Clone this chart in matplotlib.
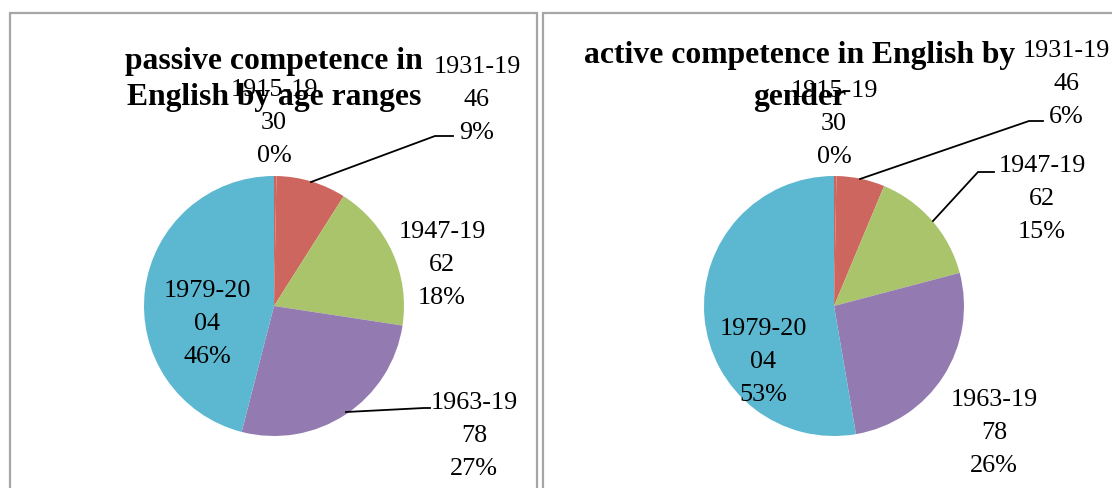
import matplotlib.pyplot as plt
from matplotlib.patches import Rectangle

# age ranges and shares (%)
ages = ["1915-1930", "1931-1946", "1947-1962", "1963-1978", "1979-2004"]
passive = [0.3, 8.7, 18.4, 26.6, 46.0]
active = [0.3, 6.0, 14.6, 26.4, 52.7]
titles = ["passive competence in\nEnglish by age ranges",
          "active competence in English by\ngender"]

colors = ["#CD665F", "#AAC46C", "#937BB1", "#5BB8D0"]
colors = [colors[0]] + colors  # first (tiny) slice unseen

W, H = 1112, 489
plt.rcParams['font.family'] = ['Liberation Serif', 'DejaVu Serif']

fig = plt.figure(figsize=(W / 100, H / 100), dpi=100)
ax = fig.add_axes([0, 0, 1, 1])

# panel frames
for x0, x1 in [(10, 537), (543, 1130)]:
    ax.add_patch(Rectangle((x0, -20), x1 - x0, H - 14 + 20, fill=False,
                           edgecolor="#A6A6A6", lw=1.6, clip_on=False))

def lab(name, v):
    return name[:7] + "\n" + name[7:] + "\n" + "%d%%" % round(v)

# label positions: centre x, last-line baseline y (pixels from top)
panels = [
    dict(vals=passive, cx=274, cy=307, tx=274, ty=105, tls=1.33,
         pos=[(274, 162), (477, 139), (442, 304), (474, 475), (207, 363)],
         leaders=[[(311, 183), (435, 137), (453, 137)],
                  [(346, 413), (424, 409), (430, 409)]]),
    dict(vals=active, cx=834, cy=307, tx=800, ty=105, tls=1.59,
         pos=[(834, 163), (1066, 123), (1042, 238), (994, 472), (763, 401)],
         leaders=[[(860, 180), (1029, 122), (1043, 122)],
                  [(933, 222), (978, 173), (994, 173)]]),
]

for i, p in enumerate(panels):
    ax.pie(p['vals'], colors=colors, startangle=90, counterclock=False,
           center=(p['cx'], H - p['cy']), radius=130,
           wedgeprops=dict(linewidth=0))
    for pts in p['leaders']:
        ax.plot([q[0] for q in pts], [H - q[1] for q in pts], color="black", lw=1.3)
    for name, v, (x, y) in zip(ages, p['vals'], p['pos']):
        ax.text(x, H - y, lab(name, v), ha="center", va="baseline",
                fontsize=18.8, linespacing=1.64, multialignment="center")
    ax.text(p['tx'], H - p['ty'], titles[i], ha="center", va="baseline",
            fontsize=22.8, fontweight="bold", linespacing=p['tls'],
            multialignment="center")

ax.set_xlim(0, W)
ax.set_ylim(0, H)
ax.set_aspect("auto")
ax.set_axis_off()

fig.savefig("out.png", dpi=100)
